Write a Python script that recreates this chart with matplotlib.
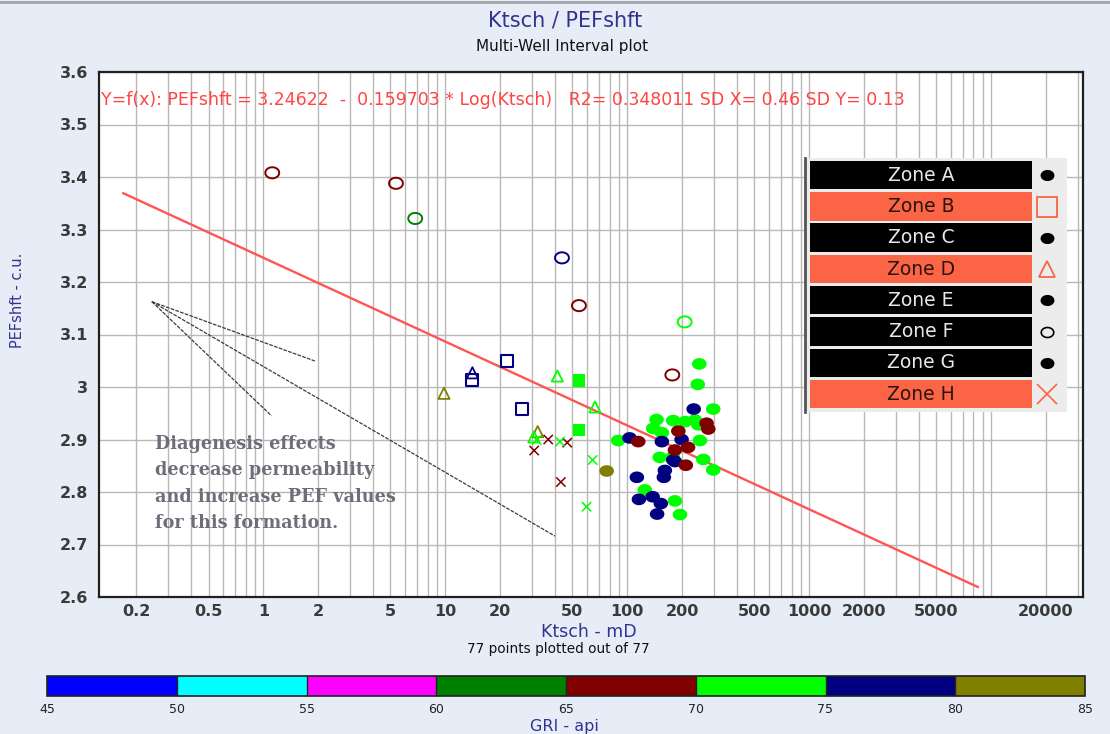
import numpy as np
import matplotlib
matplotlib.use("Agg")
import matplotlib.pyplot as plt
from matplotlib.colors import ListedColormap, BoundaryNorm
from matplotlib.patches import Rectangle
import matplotlib.ticker as mticker
import matplotlib.colorbar as mcolorbar

plt.rcParams['font.family'] = ['DejaVu Sans']

# ---------------- data ----------------
# Zone F : open circles
f_k   = [1.12, 5.36, 6.84, 43.8, 54.3, 207, 177]
f_pef = [3.408, 3.388, 3.321, 3.246, 3.155, 3.124, 3.023]
f_gri = [67, 67, 62, 77, 67, 72, 67]

# Zone B : open squares
b_k   = [21.9, 26.5, 14.1]
b_pef = [3.050, 2.958, 3.014]
b_gri = [77, 77, 77]

# filled squares
sq_k   = [54.3, 54.3]
sq_pef = [3.013, 2.918]
sq_gri = [72, 72]

# Zone D : triangles
d_k   = [9.84, 41.3, 66.5, 32.2, 30.7, 14.1]
d_pef = [2.988, 3.021, 2.962, 2.915, 2.905, 3.027]
d_gri = [82, 72, 72, 82, 72, 77]

# Zone H : crosses
h_k   = [36.8, 46.8, 30.8, 43.2, 31.8, 42.7, 64.6, 59.8]
h_pef = [2.900, 2.894, 2.879, 2.819, 2.899, 2.896, 2.861, 2.772]
h_gri = [67, 67, 67, 67, 72, 72, 72, 72]

# Zones A/C/E/G : filled ellipses
e_k = [249, 244, 297, 145, 179, 208, 236, 246, 139, 155, 89.2, 251, 151, 178,
       262, 297, 125, 183, 195,
       232, 103, 155, 199, 183, 161, 159, 113, 116, 138, 153, 146, 179,
       273, 279, 191, 115, 216, 183, 210,
       77.1]
e_pef = [3.044, 3.005, 2.958, 2.938, 2.936, 2.934, 2.937, 2.928, 2.921, 2.913,
         2.898, 2.898, 2.866, 2.867, 2.862, 2.842, 2.804, 2.783, 2.757,
         2.958, 2.903, 2.896, 2.900, 2.858, 2.841, 2.828, 2.828, 2.786, 2.791,
         2.778, 2.758, 2.861,
         2.931, 2.920, 2.916, 2.896, 2.885, 2.880, 2.851,
         2.840]
e_gri = [72] * 19 + [77] * 13 + [67] * 7 + [82]

# regression
fit_a, fit_b = 3.24622, 0.159703
fit_k = [0.17, 8450]

# annotation wedge lines (data coords)
wedge_apex = (0.244, 3.1625)
wedge_ends_k = [1.92, 1.11, 40.1]
wedge_ends_pef = [3.0495, 2.945, 2.716]

x_ticks = [0.2, 0.5, 1, 2, 5, 10, 20, 50, 100, 200, 500, 1000, 2000, 5000, 20000]
x_ticklabels = ['0.2', '0.5', '1', '2', '5', '10', '20', '50', '100', '200',
                '500', '1000', '2000', '5000', '20000']
y_ticks = [2.6, 2.7, 2.8, 2.9, 3.0, 3.1, 3.2, 3.3, 3.4, 3.5, 3.6]
y_ticklabels = ['2.6', '2.7', '2.8', '2.9', '3', '3.1', '3.2', '3.3', '3.4', '3.5', '3.6']

gri_bounds = [45, 50, 55, 60, 65, 70, 75, 80, 85]
gri_colors = ['#0000ff', '#00ffff', '#ff00ff', '#008000', '#800000', '#00ff00',
              '#000080', '#808000']

zones = ['Zone A', 'Zone B', 'Zone C', 'Zone D', 'Zone E', 'Zone F', 'Zone G', 'Zone H']
zone_red = [False, True, False, True, False, False, False, True]

# ---------------- figure ----------------
W, H = 1110, 734
fig = plt.figure(figsize=(W / 100, H / 100), dpi=100, facecolor='#e6edf6')

def fx(px):
    return px / W

def fy(py):
    return 1 - py / H

# top border line of the window
fig.add_artist(plt.Line2D([0, 1], [fy(2), fy(2)], color='#a0a4aa', lw=2,
                          transform=fig.transFigure))

ax = fig.add_axes([fx(99), fy(597), fx(1083 - 99), (597 - 72) / H])
ax.set_facecolor('white')
ax.set_xscale('log')
ax.set_xlim(0.125, 32000)
ax.set_ylim(2.6, 3.6)

cmap = ListedColormap(gri_colors)
norm = BoundaryNorm(gri_bounds, cmap.N)

# grid
ax.xaxis.set_major_locator(mticker.FixedLocator(x_ticks))
ax.xaxis.set_major_formatter(mticker.FixedFormatter(x_ticklabels))
ax.xaxis.set_minor_locator(mticker.LogLocator(base=10, subs=np.arange(1, 10), numticks=30))
ax.xaxis.set_minor_formatter(mticker.NullFormatter())
ax.set_yticks(y_ticks)
ax.set_yticklabels(y_ticklabels)
ax.grid(True, which='both', axis='x', color='#b8b8b8', lw=1.0)
ax.grid(True, which='major', axis='y', color='#b8b8b8', lw=1.0)
ax.set_axisbelow(True)
ax.tick_params(axis='both', which='both', length=0)
ax.tick_params(axis='x', pad=5, labelsize=11.5, labelcolor='#3a3a3a')
ax.tick_params(axis='y', pad=8, labelsize=11.5, labelcolor='#3a3a3a')
for lab in ax.get_xticklabels() + ax.get_yticklabels():
    lab.set_fontweight('bold')
for sp in ax.spines.values():
    sp.set_color('#202020')
    sp.set_linewidth(1.6)

# wedge annotation lines
for ek, ep in zip(wedge_ends_k, wedge_ends_pef):
    ax.plot([wedge_apex[0], ek], [wedge_apex[1], ep], color='#3c3c3c', lw=0.9,
            ls=(0, (3, 1)), zorder=2)

# regression line
fk = np.array(fit_k)
ax.plot(fk, fit_a - fit_b * np.log10(fk), color='#ff5555', lw=1.7, zorder=3)

# markers
th = np.linspace(0, 2 * np.pi, 60)
ell = np.column_stack([np.cos(th), 0.8 * np.sin(th)])

def cols(g):
    return cmap(norm(np.array(g)))

ax.scatter(e_k, e_pef, c=e_gri, cmap=cmap, norm=norm, marker=ell, s=110,
           linewidths=0, zorder=4)
ax.scatter(f_k, f_pef, facecolors='none', edgecolors=cols(f_gri), marker=ell,
           s=100, linewidths=1.4, zorder=4)
ax.scatter(b_k, b_pef, facecolors='none', edgecolors=cols(b_gri), marker='s',
           s=75, linewidths=1.5, zorder=4)
ax.scatter(sq_k, sq_pef, c=sq_gri, cmap=cmap, norm=norm, marker='s', s=85,
           linewidths=0, zorder=4)
ax.scatter(d_k, d_pef, facecolors='none', edgecolors=cols(d_gri), marker='^',
           s=65, linewidths=1.3, zorder=4)
ax.scatter(h_k, h_pef, c=h_gri, cmap=cmap, norm=norm, marker='x', s=45,
           linewidths=1.1, zorder=4)

# equation text
fig.text(fx(101), fy(100), 'Y=f(x): PEFshft = 3.24622  -  0.159703 * Log(Ktsch)   '
         'R2= 0.348011 SD X= 0.46 SD Y= 0.13', color='#ff4444', fontsize=12.5,
         va='center', ha='left')

# diagenesis text
diag_lines = ['Diagenesis effects', 'decrease permeability',
              'and increase PEF values', 'for this formation.']
for i, t in enumerate(diag_lines):
    fig.text(fx(155), fy(444 + 26.3 * i), t, family='DejaVu Serif',
             fontweight='bold', fontsize=12.7, color='#6e6e7a', va='center',
             ha='left')

# titles and labels
fig.text(0.5 * (483 + 648) / W, fy(20), 'Ktsch / PEFshft', ha='center', va='center',
         fontsize=15, color='#33338f')
fig.text(fx(562), fy(46), 'Multi-Well Interval plot', ha='center', va='center',
         fontsize=11, color='#111111')
fig.text(fx(18), fy(300), 'PEFshft - c.u.', rotation=90, ha='center',
         va='center', fontsize=10.5, color='#33338f')
fig.text(fx(589), fy(632), 'Ktsch - mD', ha='center', va='center',
         fontsize=12.5, color='#33338f')
fig.text(fx(558), fy(649), '77 points plotted out of 77', ha='center',
         va='center', fontsize=9.8, color='#111111')

# legend panel
lx0, ly0, lx1, ly1 = 805, 158, 1067, 412
lax = fig.add_axes([fx(lx0), fy(ly1), fx(lx1 - lx0), (ly1 - ly0) / H])
lax.set_xlim(0, lx1 - lx0)
lax.set_ylim(ly1 - ly0, 0)
lax.set_facecolor('#ececec')
lax.set_xticks([])
lax.set_yticks([])
for k, sp in lax.spines.items():
    sp.set_visible(k == 'left')
lax.spines['left'].set_color('#555555')
lax.spines['left'].set_linewidth(2)
red = '#fb6445'
for i, (z, isred) in enumerate(zip(zones, zone_red)):
    top = 2.7 + 31.3 * i
    lax.add_patch(Rectangle((5, top), 222, 28.5, facecolor=red if isred else 'black',
                            edgecolor='none'))
    lax.text(116, top + 14.5, z, ha='center', va='center', fontsize=13.5,
             color='#2a1410' if isred else '#e8e8e8')
    cy = top + 14.5
    if z in ('Zone A', 'Zone C', 'Zone E', 'Zone G'):
        lax.plot([242], [cy], marker=ell, ms=10, color='black', mew=0)
    elif z == 'Zone B':
        lax.plot([242], [cy], marker='s', ms=15, mfc='none', mec=red, mew=1.3)
    elif z == 'Zone D':
        lax.plot([242], [cy], marker='^', ms=12, mfc='none', mec=red, mew=1.3)
    elif z == 'Zone F':
        lax.plot([242], [cy], marker=ell, ms=9, mfc='none', mec='black', mew=1.2)
    else:
        lax.plot([242], [cy], marker='x', ms=15, color=red, mew=1.2)

# colour bar
cax = fig.add_axes([fx(47), fy(696), fx(1085 - 47), 20 / H])
cb = mcolorbar.ColorbarBase(cax, cmap=cmap, norm=norm, orientation='horizontal',
                            ticks=gri_bounds, drawedges=True)
cb.outline.set_linewidth(1.2)
cb.outline.set_edgecolor('#222222')
cb.dividers.set_color('#222222')
cb.dividers.set_linewidth(1)
cax.tick_params(length=0, pad=5, labelsize=9, labelcolor='#222222')
cax.set_xticklabels([str(v) for v in gri_bounds])
fig.text(fx(564), fy(727), 'GRI - api', ha='center', va='center', fontsize=11.5,
         color='#33338f')

fig.savefig('out.png', dpi=100, facecolor=fig.get_facecolor())
